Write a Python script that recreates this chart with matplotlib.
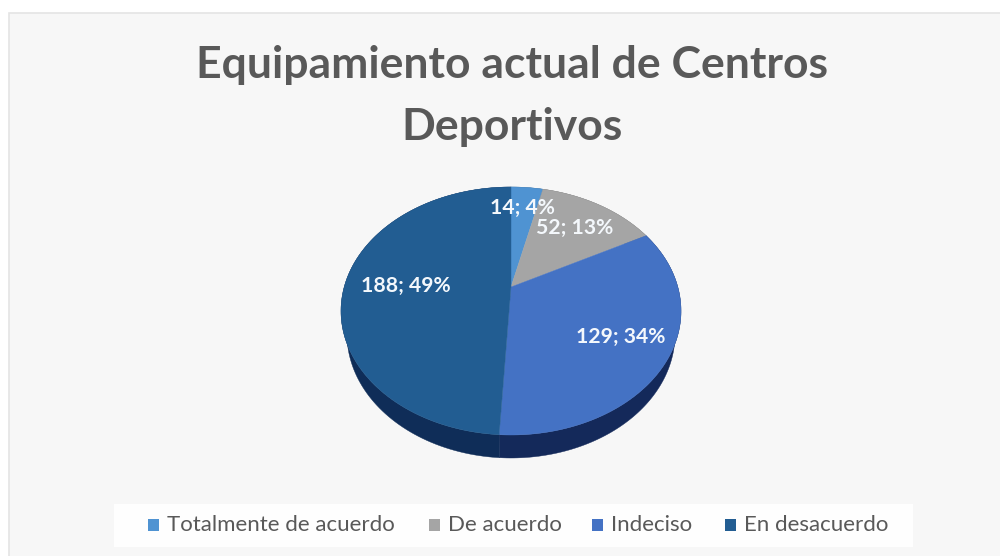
import numpy as np
import matplotlib
matplotlib.use("Agg")
import matplotlib.pyplot as plt
from matplotlib.patches import Polygon, Rectangle

categories = ["Totalmente de acuerdo", "De acuerdo", "Indeciso", "En desacuerdo"]
values = [14, 52, 129, 188]
percent_labels = ["4%", "13%", "34%", "49%"]
top_colors = ["#4f93d2", "#a5a5a5", "#4472c4", "#225d92"]
side_colors = ["#2f5f8c", "#6a6a6a", "#14295a", "#0f2d58"]

plt.rcParams["font.family"] = ["Lato", "DejaVu Sans"]

fig = plt.figure(figsize=(10, 5.56), dpi=100, facecolor="white")
ax = fig.add_axes([0, 0, 1, 1])

# Pie geometry on a tilted disc: the far half is foreshortened, the near half enlarged
cx, cy = 511, 287
far, near, half_width = 100, 148, 170
depth = 23
base_shrink = 0.965
tilt = (near - far) / (near + far)
y_scale = far * (1 + tilt)
x_scale = half_width * np.sqrt(1 - tilt ** 2)


def rim(theta_deg):
    t = np.radians(theta_deg)
    u, v = np.cos(t), np.sin(t)
    w = 1 + tilt * v
    return cx + x_scale * u / w, cy - y_scale * v / w


wedges, _ = ax.pie(values, startangle=90, counterclock=False, colors=top_colors)
spans = [(w.theta1, w.theta2) for w in wedges]
for w in wedges:
    w.remove()
ax.set_aspect("auto")
ax.set_xlim(0, 1000)
ax.set_ylim(556, 0)
ax.axis("off")

# Chart panel
ax.add_patch(Rectangle((9, 13), 995, 550, fc="#f7f7f7", ec="#e4e4e4", lw=1.2, zorder=0))

# Side wall of the disc, narrowing slightly towards its base, then the top faces
for (t1, t2), c in zip(spans, side_colors):
    th = np.linspace(t1, t2, 120)
    x, y = rim(th)
    base_x = cx + (x - cx) * base_shrink
    pts = np.r_[np.c_[x, y], np.c_[base_x, y + depth][::-1]]
    ax.add_patch(Polygon(pts, fc=c, ec=c, lw=0.3, zorder=2))
for (t1, t2), c in zip(spans, top_colors):
    th = np.linspace(t1, t2, 120)
    x, y = rim(th)
    pts = np.r_[[[cx, cy]], np.c_[x, y]]
    ax.add_patch(Polygon(pts, fc=c, ec=c, lw=0.3, zorder=3))

# Slice labels
label_xy = [(523, 208), (575, 228), (621, 337), (406, 286)]
for (lx, ly), v, p in zip(label_xy, values, percent_labels):
    ax.text(lx, ly, f"{v}; {p}", color="#f4f8fc", fontsize=15.2, fontweight="bold",
            ha="center", va="center", zorder=5)

# Title
ax.text(512, 65, "Equipamiento actual de Centros", color="#595959", fontsize=32,
        fontweight="bold", ha="center", va="center", zorder=5)
ax.text(512, 127, "Deportivos", color="#595959", fontsize=32,
        fontweight="bold", ha="center", va="center", zorder=5)

# Legend strip
ax.add_patch(Rectangle((114, 504), 799, 43, fc="#fefefe", ec="none", zorder=1))
marker_x = [148, 429, 592, 725]
for mx, name, c in zip(marker_x, categories, top_colors):
    ax.add_patch(Rectangle((mx, 519), 11, 12, fc=c, ec="none", zorder=5))
    ax.text(mx + 19, 525, name, color="#595959", fontsize=16,
            ha="left", va="center", zorder=5)

fig.savefig("out.png", dpi=100)
